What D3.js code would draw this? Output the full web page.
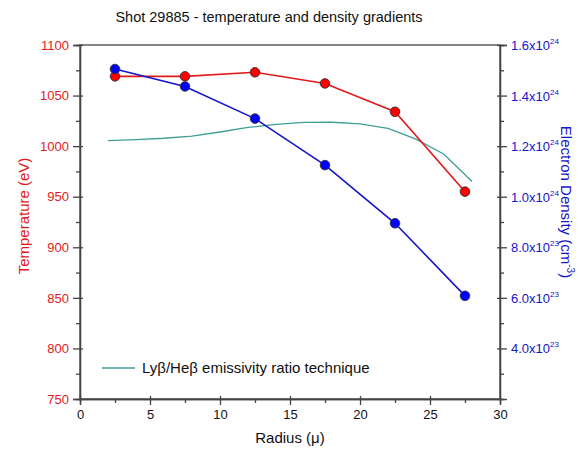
<!DOCTYPE html>
<html>
<head>
<meta charset="utf-8">
<script src="https://cdn.jsdelivr.net/npm/d3@7"></script>
<style>
  body { margin: 0; background: #fff; }
  text { font-family: "Liberation Sans", Arial, sans-serif; }
</style>
</head>
<body>
<div id="chart"></div>
<script>
// data
const radius = [2.5, 7.5, 12.5, 17.5, 22.5, 27.5]
const temperature = [1069, 1069, 1073, 1062, 1034, 955]
const density = [1.505e24, 1.436e24, 1.309e24, 1.125e24, 0.895e24, 0.608e24]

const ratioRadius = [2, 4, 6, 8, 10, 12, 14, 16, 18, 20, 22, 24, 26, 28]
const ratioTemp = [1005.4, 1006.5, 1007.8, 1010, 1014, 1018.5, 1021.5, 1023.5, 1023.6, 1022, 1017.5, 1007, 992, 965]

const xTicks = [0, 5, 10, 15, 20, 25, 30]
const tempTicks = [750, 800, 850, 900, 950, 1000, 1050, 1100]
const densTicks = [4e23, 6e23, 8e23, 1.0e24, 1.2e24, 1.4e24, 1.6e24]

// dimensions
const dims = {
  width: 582,
  height: 455,
  margin: { top: 45, bottom: 56, left: 80, right: 82 }
}
dims.ctrWidth = dims.width - dims.margin.left - dims.margin.right
dims.ctrHeight = dims.height - dims.margin.top - dims.margin.bottom

const red = '#e31a1c'
const blue = '#1515c8'
const teal = '#3f9e96'
const axisCol = '#444'

const svg = d3.select('#chart')
  .append('svg')
  .attr('width', dims.width)
  .attr('height', dims.height)

const ctr = svg.append('g')
  .attr('transform', `translate(${dims.margin.left},${dims.margin.top})`)

// scales
const xScale = d3.scaleLinear().domain([0, 30]).range([0, dims.ctrWidth])
const tScale = d3.scaleLinear().domain([750, 1100]).range([dims.ctrHeight, 0])
const nScale = d3.scaleLinear().domain([2e23, 1.6e24]).range([dims.ctrHeight, 0])

// frame
ctr.append('rect')
  .attr('width', dims.ctrWidth)
  .attr('height', dims.ctrHeight)
  .attr('fill', 'none')
  .attr('stroke', axisCol)
  .attr('stroke-width', 1.3)

// helper to style an axis group
function styleAxis(g, color) {
  g.select('.domain').attr('stroke', axisCol).attr('stroke-width', 1.3)
  g.selectAll('.tick line').attr('stroke', axisCol).attr('stroke-width', 1.3)
  g.selectAll('.tick text')
    .attr('fill', color)
    .style('font-size', '13px')
    .style('font-family', '"Liberation Sans", Arial, sans-serif')
}

// x axis
const xMinor = ctr.append('g')
  .attr('transform', `translate(0,${dims.ctrHeight})`)
  .call(d3.axisBottom(xScale).tickValues(d3.range(2.5, 30, 5)).tickSize(4).tickFormat(''))
styleAxis(xMinor, '#000')
const xAxisGroup = ctr.append('g')
  .attr('transform', `translate(0,${dims.ctrHeight})`)
  .call(d3.axisBottom(xScale).tickValues(xTicks).tickSize(6).tickPadding(5).tickFormat(d3.format('d')))
styleAxis(xAxisGroup, '#111')
xAxisGroup.selectAll('.tick line').attr('y1', -3)

svg.append('text')
  .attr('x', dims.margin.left + dims.ctrWidth / 2)
  .attr('y', 443)
  .attr('text-anchor', 'middle')
  .attr('fill', '#111')
  .style('font-size', '15px')
  .text('Radius (\u03bc)')

// left axis (temperature)
const tMinor = ctr.append('g')
  .call(d3.axisLeft(tScale).tickValues(d3.range(775, 1100, 50)).tickSize(4).tickFormat(''))
styleAxis(tMinor, red)
const tAxisGroup = ctr.append('g')
  .call(d3.axisLeft(tScale).tickValues(tempTicks).tickSize(7).tickPadding(4).tickFormat(d3.format('d')))
styleAxis(tAxisGroup, red)
tAxisGroup.selectAll('.tick line').attr('x1', 3)

svg.append('text')
  .attr('transform', `translate(29,${dims.margin.top + dims.ctrHeight / 2 - 6}) rotate(-90)`)
  .attr('text-anchor', 'middle')
  .attr('fill', red)
  .style('font-size', '15px')
  .text('Temperature (eV)')

// right axis (density)
const nMinor = ctr.append('g')
  .attr('transform', `translate(${dims.ctrWidth},0)`)
  .call(d3.axisRight(nScale).tickValues(d3.range(3e23, 1.6e24, 2e23)).tickSize(4).tickFormat(''))
styleAxis(nMinor, blue)
const nAxisGroup = ctr.append('g')
  .attr('transform', `translate(${dims.ctrWidth},0)`)
  .call(d3.axisRight(nScale).tickValues(densTicks).tickSize(7).tickPadding(4).tickFormat(''))
styleAxis(nAxisGroup, blue)
nAxisGroup.selectAll('.tick line').attr('x1', -3)

nAxisGroup.selectAll('.tick').each(function (d) {
  const exp = Math.floor(Math.log10(d) + 1e-9)
  const mant = d / Math.pow(10, exp)
  const t = d3.select(this).select('text')
    .attr('x', 11)
    .attr('dy', '0.35em')
    .attr('text-anchor', 'start')
  t.append('tspan').text(mant.toFixed(1) + 'x10')
  t.append('tspan').attr('dy', -6).style('font-size', '8px').text(exp)
})

const rLabel = svg.append('text')
  .attr('transform', `translate(561,${dims.margin.top + 157}) rotate(90)`)
  .attr('text-anchor', 'middle')
  .attr('fill', blue)
  .style('font-size', '15px')
rLabel.append('tspan').text('Electron Density (cm')
rLabel.append('tspan').attr('dy', -6).style('font-size', '10px').text('-3')
rLabel.append('tspan').attr('dy', 6).text(')')

// ratio technique line
const ratioData = ratioRadius.map((r, i) => ({ r, t: ratioTemp[i] }))
ctr.append('path')
  .datum(ratioData)
  .attr('fill', 'none')
  .attr('stroke', teal)
  .attr('stroke-width', 1.3)
  .attr('d', d3.line().x(d => xScale(d.r)).y(d => tScale(d.t)))

// temperature line + markers
const tData = radius.map((r, i) => ({ r, v: temperature[i] }))
ctr.append('path')
  .datum(tData)
  .attr('fill', 'none')
  .attr('stroke', red)
  .attr('stroke-width', 1.6)
  .attr('d', d3.line().x(d => xScale(d.r)).y(d => tScale(d.v)))

// density line + markers
const nData = radius.map((r, i) => ({ r, v: density[i] }))
ctr.append('path')
  .datum(nData)
  .attr('fill', 'none')
  .attr('stroke', blue)
  .attr('stroke-width', 1.6)
  .attr('d', d3.line().x(d => xScale(d.r)).y(d => nScale(d.v)))

ctr.selectAll('circle.temp')
  .data(tData)
  .join('circle')
  .attr('class', 'temp')
  .attr('cx', d => xScale(d.r))
  .attr('cy', d => tScale(d.v))
  .attr('r', 4.8)
  .attr('fill', '#ff0000')
  .attr('stroke', '#333')
  .attr('stroke-width', 0.9)

ctr.selectAll('circle.dens')
  .data(nData)
  .join('circle')
  .attr('class', 'dens')
  .attr('cx', d => xScale(d.r))
  .attr('cy', d => nScale(d.v))
  .attr('r', 4.8)
  .attr('fill', '#0000ff')
  .attr('stroke', '#333')
  .attr('stroke-width', 0.9)

// legend
ctr.append('line')
  .attr('x1', 22).attr('x2', 55)
  .attr('y1', 323).attr('y2', 323)
  .attr('stroke', teal)
  .attr('stroke-width', 1.3)
ctr.append('text')
  .attr('x', 62)
  .attr('y', 328)
  .attr('fill', '#111')
  .style('font-size', '15px')
  .text('Ly\u03b2/He\u03b2 emissivity ratio technique')

// title
svg.append('text')
  .attr('x', 269)
  .attr('y', 22)
  .attr('text-anchor', 'middle')
  .attr('fill', '#111')
  .style('font-size', '14.5px')
  .text('Shot 29885 - temperature and density gradients')
</script>
</body>
</html>
